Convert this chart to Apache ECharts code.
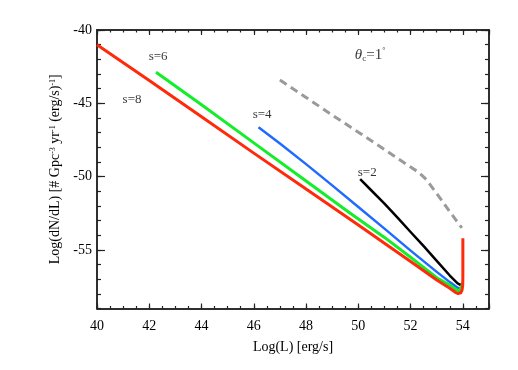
<!DOCTYPE html>
<html><head><meta charset="utf-8">
<script src="https://cdn.jsdelivr.net/npm/echarts@6/dist/echarts.min.js"></script>
<style>html,body{margin:0;padding:0;background:#fff}#c{width:518px;height:370px}</style>
</head><body><div id="c"></div>
<script>
// Tick labels
const xTicks = [40, 42, 44, 46, 48, 50, 52, 54];
const yTicks = [-55, -50, -45, -40];

// Series values [log L, log dN/dL]
const s8 = [[40,-41.0],[42,-43.45],[44,-45.92],[46,-48.4],[48,-50.85],[50,-53.3],[51,-54.55],[52,-55.8],[53,-57.05],[53.5,-57.62],[53.7,-57.88],[53.82,-57.98],[53.92,-57.93],[53.97,-57.75],[53.995,-57.4],[54.0,-56.8],[54.0,-54.2]];
const s6 = [[42.26,-42.88],[44,-45.1],[46,-47.7],[48,-50.3],[49.69,-52.5],[51,-54.15],[52,-55.5],[53,-56.9],[53.5,-57.4],[53.75,-57.72],[53.88,-57.8],[53.95,-57.7],[53.99,-57.3]];
const s4 = [[46.18,-46.63],[47,-47.75],[48,-49.15],[49,-50.6],[50,-52.07],[51,-53.55],[52,-55.05],[53,-56.5],[53.5,-57.2],[53.8,-57.58],[53.9,-57.63],[53.97,-57.5]];
const s2 = [[50.07,-50.18],[50.5,-50.95],[51,-51.85],[51.5,-52.8],[52,-53.78],[52.5,-54.75],[53,-55.75],[53.5,-56.75],[53.8,-57.28],[53.92,-57.4],[53.99,-57.3]];
const limit = [[47,-43.41],[48,-44.6],[49,-45.8],[50,-46.97],[51,-48.15],[52,-49.35],[52.3,-49.7],[52.6,-50.2],[53.1,-51.4],[53.5,-52.4],[53.96,-53.5]];

// Annotation anchors [x, y, text]
const notes = [[42.34,-41.84,'s=6'],[41.34,-44.77,'s=8'],[46.32,-45.79,'s=4'],[50.34,-49.75,'s=2']];
const thetaNote = [50.45,-41.7];

const serif = '"Liberation Serif","DejaVu Serif",serif';
const axisCol = '#222';

function xAx(pos, interval, len, labels) {
  return {type:'value', min:40, max:55, interval:interval, position:pos,
    axisLine:{show:true, onZero:false, lineStyle:{color:axisCol, width:1.5}},
    axisTick:{show:true, inside:true, length:len, lineStyle:{color:axisCol, width:1.2}},
    axisLabel:{show:labels, margin:11, color:'#000', fontFamily:serif, fontSize:14, customValues: labels ? xTicks : undefined},
    splitLine:{show:false}};
}
function yAx(pos, len, labels, major) {
  const a = {type:'value', min:-59, max:-40, position:pos,
    axisLine:{show:true, onZero:false, lineStyle:{color:axisCol, width:1.5}},
    axisTick:{show:true, inside:true, length:len, lineStyle:{color:axisCol, width:1.2}},
    axisLabel:{show:labels, margin:5, color:'#000', fontFamily:serif, fontSize:14},
    splitLine:{show:false}};
  if (major) { a.axisTick.customValues = yTicks; a.axisLabel.customValues = yTicks; }
  else { a.interval = 1; }
  return a;
}

const xa0 = xAx('bottom', 2, 5, true);
xa0.name = 'Log(L) [erg/s]';
xa0.nameLocation = 'middle'; xa0.nameGap = 32;
xa0.nameTextStyle = {fontFamily:serif, fontSize:14, color:'#000'};
const ya0 = yAx('left', 8, true, true);
ya0.name = '{n|Log(dN/dL) [# Gpc}{s|-3}{n| yr}{s|-1}{n| (erg/s)}{s|-1}{n|]}';
ya0.nameLocation = 'middle'; ya0.nameGap = 32; ya0.nameRotate = 90;
ya0.nameTextStyle = {fontFamily:serif, fontSize:14, color:'#000',
  rich:{n:{fontFamily:serif, fontSize:14, color:'#000'}, s:{fontFamily:serif, fontSize:8, color:'#000', verticalAlign:'top', lineHeight:10}}};

const lineSeries = (data, color, w, z, dashed) => ({type:'line', data:data, showSymbol:false, symbol:'none',
  xAxisIndex:0, yAxisIndex:0, z:z, silent:true,
  lineStyle:{color:color, width:w, type: dashed ? [8,5] : 'solid', cap:'butt', join:'round'}});

const chart = echarts.init(document.getElementById('c'), null, {renderer:'canvas'});
chart.setOption({
  animation:false,
  backgroundColor:'#fff',
  grid:{left:97, right:29, top:30, bottom:61.5, containLabel:false},
  xAxis:[xa0, xAx('bottom', 0.5, 2.5, false), xAx('top', 2, 5, false), xAx('top', 0.5, 2.5, false)],
  yAxis:[ya0, yAx('left', 4, false, false), yAx('right', 8, false, true), yAx('right', 4, false, false)],
  series:[
    lineSeries(limit, '#9a9a9a', 3, 2, true),
    lineSeries(s2, '#000000', 2.5, 3, false),
    lineSeries(s4, '#1f6bff', 2.5, 4, false),
    lineSeries(s6, '#14ee2a', 3, 5, false),
    lineSeries(s8, '#ff2a0a', 3, 6, false),
    {type:'scatter', xAxisIndex:0, yAxisIndex:0, symbolSize:0, silent:true, z:10,
      data: notes.map(n => ({value:[n[0], n[1]], name:n[2]})),
      label:{show:true, position:'inside', formatter:p => p.name, fontFamily:serif, fontSize:13, color:'#000'}},
    {type:'scatter', xAxisIndex:0, yAxisIndex:0, symbolSize:0, silent:true, z:10,
      data:[{value:thetaNote}],
      label:{show:true, position:'inside', formatter:'{t|θ}{c|c}{n|=1}{d|°}', color:'#000',
        rich:{t:{fontFamily:serif, fontStyle:'italic', fontSize:15, color:'#000'},
              c:{fontFamily:serif, fontSize:9, color:'#000', verticalAlign:'bottom', padding:[7,0,0,0]},
              n:{fontFamily:serif, fontSize:15, color:'#000'},
              d:{fontFamily:serif, fontSize:8, color:'#000', verticalAlign:'top', padding:[0,0,7,0]}}}}
  ]
});
</script>
</body></html>
